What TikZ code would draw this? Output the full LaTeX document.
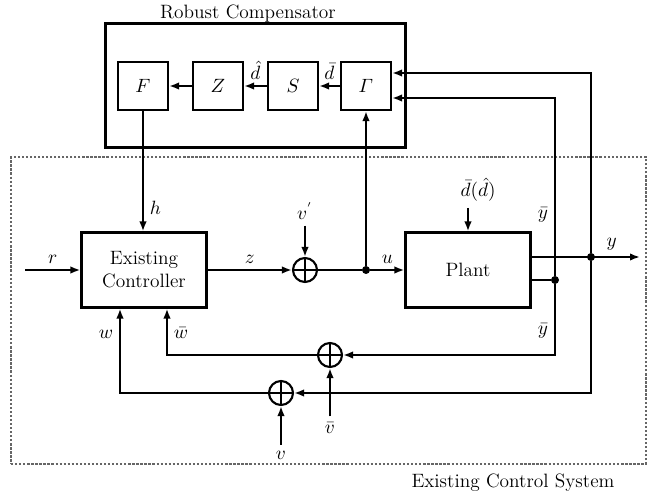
\documentclass[tikz,border=0pt]{standalone}
\usepackage{amsmath}
\usetikzlibrary{arrows.meta}
\begin{document}
\begin{tikzpicture}[x=0.02cm, y=-0.02cm,
    blk/.style={rectangle, draw, line width=1.2pt, minimum width=1cm, minimum height=0.96cm, inner sep=0pt},
    bigblk/.style={rectangle, draw, line width=1.2pt, minimum width=2.5cm, minimum height=1.5cm, align=center},
    sum/.style={circle, draw, line width=1.2pt, minimum size=4.8mm, inner sep=0pt,
        path picture={\draw[line width=1.2pt] (path picture bounding box.north) -- (path picture bounding box.south)
            (path picture bounding box.west) -- (path picture bounding box.east);}},
    dot/.style={circle, fill, inner sep=0pt, minimum size=1.6mm},
    arrow/.style={->, >={Latex[length=2mm,width=1.5mm]}, line width=1.2pt},
    line/.style={line width=1.2pt},
    every node/.style={font=\fontsize{11}{13}\selectfont}
]
\useasboundingbox (0,0) rectangle (647,497);
% Frames
\node[draw, line width=1.2pt, minimum width=6cm, minimum height=2.48cm] (rc) at (255.5,85.5) {};
\node (rctitle) at (248,14) {Robust Compensator};
\node[draw=black!60, densely dotted, line width=1.3pt, minimum width=12.7cm, minimum height=6.14cm] (ecs) at (328.5,310.5) {};
\node (ecstitle) at (513,483) {Existing Control System};
% Robust compensator blocks
\node[blk] (F) at (143,86) {$F$};
\node[blk] (Z) at (218,86) {$Z$};
\node[blk] (S) at (293,86) {$S$};
\node[blk] (G) at (366,86) {$\varGamma$};
% Existing control system
\node[bigblk] (ctrl) at (144,270) {Existing\\Controller};
\node[bigblk] (plant) at (468,270) {Plant};
\node[sum] (sv) at (305,270) {};
\node[sum] (s1) at (330,355) {};
\node[sum] (s2) at (281,393) {};
\node[dot] (udot) at (366,270) {};
\node[dot] (ya) at (591,257) {};
\node[dot] (yb) at (555,280) {};
\node (vp) at (305,211) {$v^{'}$};
\node (vb) at (330,428) {$\bar v$};
\node (v) at (281,455) {$v$};
\node (dist) at (478,190) {$\bar d(\hat d)$};
\coordinate (rin) at (25,270);
\coordinate (yout) at (640,257);
% Arrows
\draw[arrow] (G) -- node[above]{$\bar d$} (S);
\draw[arrow] (S) -- node[above]{$\hat d$} (Z);
\draw[arrow] (Z) -- (F);
\draw[arrow] (F) -- node[pos=0.8, right]{$h$} (F |- ctrl.north);
\draw[arrow] (rin) -- node[above]{$r$} (ctrl);
\draw[arrow] (ctrl) -- node[above]{$z$} (sv);
\draw[arrow] (vp) -- (sv);
\draw[line] (sv) -- (udot);
\draw[arrow] (udot) -- node[above]{$u$} (plant);
\draw[arrow] (udot) -- (G);
\draw[arrow] (dist.south -| plant.north) -- (plant.north);
\draw[arrow] (plant.east |- ya) -- node[pos=0.74, above]{$y$} (yout);
\draw[line] (plant.east |- yb) -- (yb);
\draw[arrow] (ya) |- ([yshift=2.6mm]G.east);
\draw[arrow] (yb) |- node[pos=0.17, left]{$\bar y$} ([yshift=-2.4mm]G.east);
\draw[arrow] (yb) |- node[pos=0.33, left]{$\bar y$} (s1);
\draw[arrow] (ya) |- (s2);
\draw[arrow] (vb) -- (s1);
\draw[arrow] (v) -- (s2);
\draw[arrow] (s1) -| node[pos=0.74, right]{$\bar w$} ([xshift=4.6mm]ctrl.south);
\draw[arrow] (s2) -| node[pos=0.85, left]{$w$} ([xshift=-4.8mm]ctrl.south);
\end{tikzpicture}
\end{document}
